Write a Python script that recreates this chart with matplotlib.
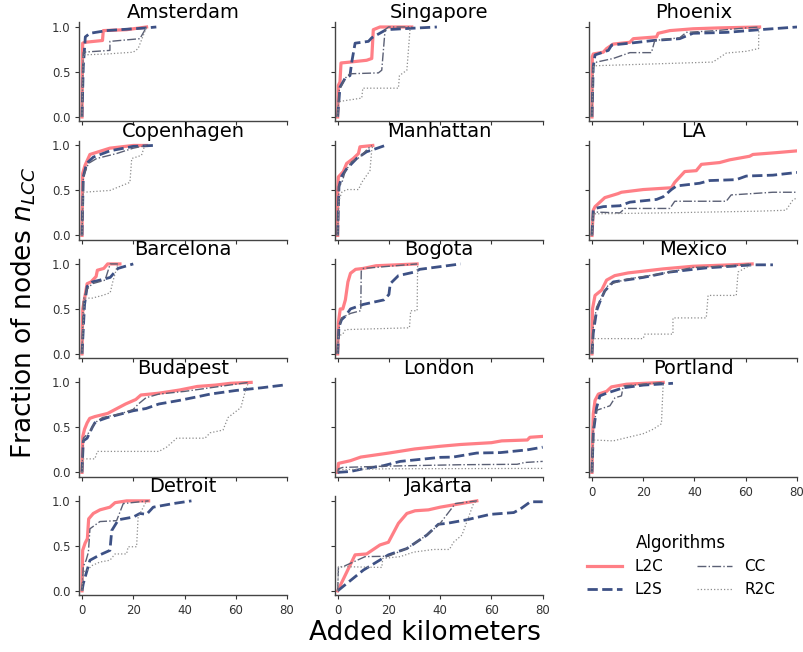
import matplotlib
matplotlib.use("Agg")
import matplotlib.pyplot as plt

# fraction of nodes in the LCC vs added km
# each city: algorithm -> (km, fraction)
amsterdam = {
    "L2C": ([0, 0.26, 1.2, 8, 8.3, 17.4, 25.2], [0, 0.82, 0.83, 0.85, 0.96, 0.97, 1.0]),
    "L2S": ([0, 0.5, 1.3, 3.1, 9.6, 25.2, 29], [0, 0.56, 0.89, 0.93, 0.96, 0.99, 1.0]),
    "CC": ([0, 0.5, 10.9, 10.9, 22.6, 25.2], [0, 0.72, 0.74, 0.84, 0.87, 1.0]),
    "R2C": ([0, 0.5, 9.6, 20, 21.9, 25.2], [0, 0.69, 0.70, 0.72, 0.76, 1.0]),
}
copenhagen = {
    "L2C": ([0, 0.26, 1.2, 3.1, 10.9, 20, 25.2], [0, 0.69, 0.78, 0.90, 0.97, 1.0, 1.0]),
    "L2S": ([0, 0.5, 1.8, 4.4, 10.9, 20, 27.8], [0, 0.65, 0.80, 0.87, 0.94, 0.99, 1.0]),
    "CC": ([0, 0.5, 2.5, 5.7, 13.5, 20, 25.2], [0, 0.65, 0.80, 0.855, 0.91, 0.97, 1.0]),
    "R2C": ([0, 0.5, 10.9, 18.7, 19.4, 23.2, 24.5], [0, 0.48, 0.50, 0.59, 0.855, 0.89, 1.0]),
}
barcelona = {
    "L2C": ([0, 0.3, 2, 3.5, 5.5, 6, 8.5, 10, 14.8], [0, 0.5, 0.78, 0.80, 0.86, 0.93, 0.95, 1.0, 1.0]),
    "L2S": ([0, 1, 2, 4, 7, 11, 14, 20], [0, 0.55, 0.75, 0.80, 0.82, 0.85, 0.95, 1.0]),
    "CC": ([0, 0.5, 2, 4, 9, 11, 14], [0, 0.6, 0.72, 0.78, 0.82, 1.0, 1.0]),
    "R2C": ([0, 1, 4, 8, 11, 12, 14], [0, 0.62, 0.62, 0.65, 0.68, 0.8, 1.0]),
}
budapest = {
    "L2C": ([0, 0.3, 1, 2, 3, 5, 10, 13, 17, 21, 23, 30, 38, 45, 52, 58, 66],
            [0, 0.40, 0.48, 0.55, 0.60, 0.62, 0.655, 0.70, 0.76, 0.81, 0.86, 0.88, 0.915, 0.955, 0.97, 0.99, 1.0]),
    "L2S": ([0, 0.5, 2, 4, 5, 6, 10, 20, 25, 30, 38, 45, 50, 60, 70, 80],
            [0, 0.35, 0.38, 0.50, 0.55, 0.57, 0.61, 0.685, 0.71, 0.76, 0.80, 0.84, 0.87, 0.91, 0.94, 0.975]),
    "CC": ([0, 0.5, 3, 5, 8, 15, 20, 22, 25, 30, 40, 50, 60, 65],
           [0, 0.38, 0.45, 0.55, 0.61, 0.65, 0.70, 0.76, 0.83, 0.87, 0.90, 0.94, 0.98, 1.0]),
    "R2C": ([0, 0.5, 5, 6, 30, 33, 35, 37, 48, 50, 55, 57, 62, 63, 64, 65],
            [0, 0.15, 0.15, 0.233, 0.233, 0.28, 0.33, 0.38, 0.38, 0.44, 0.47, 0.61, 0.72, 0.83, 0.93, 1.0]),
}
detroit = {
    "L2C": ([0, 0.26, 1.2, 2.1, 2.6, 4.4, 7, 10.9, 12.9, 17.4, 26],
            [0, 0.45, 0.53, 0.58, 0.80, 0.86, 0.90, 0.93, 0.98, 1.0, 1.0]),
    "L2S": ([0, 0.5, 1.6, 3.1, 7, 10.9, 11.6, 14.2, 20, 22.6, 25.2, 27.8, 35.6, 42.7],
            [0, 0.08, 0.19, 0.34, 0.40, 0.45, 0.67, 0.79, 0.82, 0.86, 0.85, 0.93, 0.97, 1.0]),
    "CC": ([0, 0.5, 1.6, 2.5, 3.1, 7, 13.5, 16.1, 26],
           [0, 0.27, 0.34, 0.43, 0.69, 0.77, 0.78, 0.97, 1.0]),
    "R2C": ([0, 0.5, 2.1, 3.8, 7, 10.9, 12.9, 17.4, 18, 21.3, 21.9, 25.2],
            [0, 0.21, 0.23, 0.28, 0.32, 0.34, 0.41, 0.41, 0.49, 0.49, 0.82, 1.0]),
}
singapore = {
    "L2C": ([0, 0.26, 0.9, 1.3, 4.8, 11.3, 13.3, 13.9, 16.5, 28.9],
            [0, 0.35, 0.39, 0.60, 0.61, 0.63, 0.65, 0.97, 1.0, 1.0]),
    "L2S": ([0, 0.9, 2.9, 4.8, 5.5, 6.8, 12, 13.3, 18.9, 28.3, 38.7],
            [0, 0.33, 0.43, 0.46, 0.61, 0.82, 0.84, 0.88, 0.97, 0.985, 1.0]),
    "CC": ([0, 0.65, 2.9, 4.8, 15.9, 17.2, 18.5, 19.8, 28.9],
           [0, 0.30, 0.43, 0.48, 0.49, 0.52, 0.97, 1.0, 1.0]),
    "R2C": ([0, 0.26, 9.4, 9.8, 23.7, 24.1, 27, 28.3],
            [0, 0.17, 0.21, 0.32, 0.32, 0.46, 0.52, 1.0]),
}
manhattan = {
    "L2C": ([0, 0, 0.26, 2.2, 3.5, 6.1, 8.1, 8.7, 13.7],
            [0, 0.5, 0.65, 0.71, 0.80, 0.855, 0.91, 0.985, 1.0]),
    "L2S": ([0, 0.5, 1.6, 3.5, 7.4, 11.3, 15.2, 18.5],
            [0, 0.54, 0.66, 0.74, 0.855, 0.93, 0.967, 1.0]),
    "CC": ([0, 0.5, 1.6, 2.9, 5.5, 8.7, 11.3, 13.3],
           [0, 0.56, 0.58, 0.71, 0.82, 0.87, 0.95, 1.0]),
    "R2C": ([0, 0.5, 1.6, 3.5, 8.1, 9.4, 12.6, 13.3, 13.7],
            [0, 0.39, 0.48, 0.51, 0.51, 0.59, 0.72, 0.95, 1.0]),
}
bogota = {
    "L2C": ([0, 0.3, 1, 2, 3, 4, 5, 7, 10, 15, 31],
            [0, 0.35, 0.50, 0.50, 0.60, 0.80, 0.896, 0.94, 0.95, 0.98, 1.0]),
    "L2S": ([0, 0.5, 1.5, 3, 5, 10, 18, 20, 20.5, 23.7, 30, 32, 48],
            [0, 0.30, 0.38, 0.42, 0.50, 0.55, 0.60, 0.66, 0.78, 0.87, 0.91, 0.94, 1.0]),
    "CC": ([0, 0.3, 1.5, 5, 9, 9.2, 10, 31],
           [0, 0.25, 0.40, 0.45, 0.48, 0.92, 0.95, 1.0]),
    "R2C": ([0, 0.3, 2, 3, 28, 28.5, 31, 31.2],
            [0, 0.20, 0.22, 0.27, 0.29, 0.48, 0.48, 1.0]),
}
london = {
    "L2C": ([0, 0.3, 5, 9, 20, 30, 40, 48, 60, 64, 74, 75, 80],
            [0, 0.10, 0.13, 0.17, 0.215, 0.26, 0.29, 0.31, 0.33, 0.35, 0.36, 0.39, 0.40]),
    "L2S": ([0, 5, 10, 17.8, 24.4, 40, 45, 54.3, 63.5, 73.9, 80],
            [0, 0.01, 0.04, 0.074, 0.122, 0.167, 0.17, 0.215, 0.22, 0.25, 0.28]),
    "CC": ([0, 0.3, 2, 20, 48, 70, 73, 80],
           [0, 0.04, 0.055, 0.07, 0.085, 0.09, 0.11, 0.122]),
    "R2C": ([0, 0.3, 20, 80], [0, 0.03, 0.04, 0.044]),
}
jakarta = {
    "L2C": ([0, 6.8, 11.3, 16.5, 19.8, 23.7, 27, 30.2, 35.4, 40, 54.3],
            [0, 0.40, 0.41, 0.51, 0.54, 0.75, 0.86, 0.89, 0.90, 0.93, 1.0]),
    "L2S": ([0, 10, 19.8, 27, 34.8, 39.3, 42.6, 50.4, 59.5, 68.7, 71.3, 75.2, 80],
            [0, 0.23, 0.40, 0.47, 0.62, 0.74, 0.75, 0.79, 0.85, 0.87, 0.91, 0.99, 0.99]),
    "CC": ([0, 0.3, 2.2, 10.7, 19.8, 27, 34.8, 40, 45.9, 54.3],
           [0, 0.26, 0.27, 0.38, 0.385, 0.47, 0.62, 0.75, 0.97, 1.0]),
    "R2C": ([0, 0.3, 17.2, 17.6, 24.4, 29.6, 37.4, 43.6, 45.2, 48.5, 53, 54.3],
            [0, 0.27, 0.26, 0.36, 0.38, 0.43, 0.46, 0.46, 0.54, 0.62, 0.97, 1.0]),
}
phoenix = {
    "L2C": ([0, 0.13, 0.5, 4.4, 5.7, 8.3, 14.8, 16.1, 25.2, 25.8, 30.4, 39.4, 49.8, 65.4],
            [0, 0.67, 0.70, 0.72, 0.76, 0.81, 0.83, 0.87, 0.89, 0.93, 0.96, 0.98, 0.99, 1.0]),
    "L2S": ([0, 0.5, 1.2, 6.4, 7.7, 14.8, 23.9, 34.2, 39.4, 52.4, 65.4, 80],
            [0, 0.56, 0.69, 0.74, 0.80, 0.82, 0.85, 0.87, 0.93, 0.94, 0.97, 1.0]),
    "CC": ([0, 0.5, 1.8, 8.3, 14.8, 23.2, 24.5, 34.2, 36.8, 48.5, 60.2, 65.4],
           [0, 0.56, 0.61, 0.65, 0.715, 0.715, 0.85, 0.88, 0.94, 0.96, 0.99, 1.0]),
    "R2C": ([0, 0.5, 1.8, 47.2, 52.4, 60.2, 65, 65.1, 65.4],
            [0, 0.56, 0.57, 0.61, 0.71, 0.73, 0.76, 0.96, 1.0]),
}
la = {
    "L2C": ([0, 0.5, 1.2, 3.1, 5, 10.2, 11.5, 20, 31, 32.3, 36.2, 40.7, 42.7, 49.8, 53.7, 61.5, 62.8, 71.9, 80],
            [0, 0.28, 0.32, 0.37, 0.42, 0.465, 0.48, 0.51, 0.53, 0.59, 0.71, 0.72, 0.79, 0.81, 0.84, 0.88, 0.90, 0.92, 0.94]),
    "L2S": ([0, 0.5, 1.2, 4.4, 10.9, 14.8, 25.2, 27.8, 31, 33, 42, 45.9, 56.3, 60.2, 70.6, 80],
            [0, 0.28, 0.30, 0.32, 0.33, 0.37, 0.40, 0.43, 0.51, 0.55, 0.58, 0.61, 0.62, 0.66, 0.67, 0.70]),
    "CC": ([0, 0.5, 1.2, 10.9, 12.8, 30.4, 32.3, 52.4, 54.3, 70.6, 80],
           [0, 0.24, 0.26, 0.25, 0.30, 0.30, 0.38, 0.38, 0.45, 0.48, 0.48]),
    "R2C": ([0, 0.5, 26.5, 65.4, 75.7, 78.3, 80],
            [0, 0.24, 0.25, 0.27, 0.28, 0.39, 0.42]),
}
mexico = {
    "L2C": ([0, 0.2, 1.2, 3.8, 5.7, 8.9, 14.1, 27.8, 39.4, 54.3, 62.5],
            [0, 0.50, 0.65, 0.71, 0.82, 0.87, 0.90, 0.945, 0.974, 0.99, 1.0]),
    "L2S": ([0, 0.5, 1.8, 3.1, 5, 8.3, 20, 30.4, 44.6, 62.8, 70.6],
            [0, 0.23, 0.48, 0.58, 0.70, 0.80, 0.85, 0.91, 0.956, 0.99, 0.99]),
    "CC": ([0, 0.5, 1.8, 3.8, 6.4, 13.5, 26.5, 39.4, 55, 62],
           [0, 0.30, 0.52, 0.63, 0.77, 0.83, 0.89, 0.96, 0.98, 1.0]),
    "R2C": ([0, 0.5, 20, 20.6, 31.6, 31.6, 44.6, 45.3, 56.3, 57, 62],
            [0, 0.17, 0.17, 0.22, 0.22, 0.40, 0.40, 0.65, 0.65, 0.91, 0.99]),
}
portland = {
    "L2C": ([0, 0.3, 0.5, 1.2, 2.5, 5.7, 7.6, 13.5, 27.8],
            [0, 0.43, 0.65, 0.80, 0.87, 0.90, 0.95, 0.98, 1.0]),
    "L2S": ([0, 0.5, 1.8, 3.1, 5.7, 12.2, 20, 31.6],
            [0, 0.43, 0.72, 0.85, 0.88, 0.94, 0.97, 0.99]),
    "CC": ([0, 0.5, 1.8, 7, 9, 11.5, 12.2, 27.8],
           [0, 0.50, 0.69, 0.74, 0.83, 0.85, 0.96, 1.0]),
    "R2C": ([0, 0.5, 8.3, 20, 23.9, 27.1, 27.8],
            [0, 0.36, 0.35, 0.43, 0.48, 0.54, 1.0]),
}

# grid layout: (row, col) -> city
panels = [
    ("Amsterdam", amsterdam, 0, 0), ("Copenhagen", copenhagen, 1, 0),
    ("Barcelona", barcelona, 2, 0), ("Budapest", budapest, 3, 0),
    ("Detroit", detroit, 4, 0),
    ("Singapore", singapore, 0, 1), ("Manhattan", manhattan, 1, 1),
    ("Bogota", bogota, 2, 1), ("London", london, 3, 1),
    ("Jakarta", jakarta, 4, 1),
    ("Phoenix", phoenix, 0, 2), ("LA", la, 1, 2),
    ("Mexico", mexico, 2, 2), ("Portland", portland, 3, 2),
]
algorithms = ["L2C", "L2S", "CC", "R2C"]
styles = {
    "L2C": dict(color="#ff7f86", lw=2.3, ls="-"),
    "L2S": dict(color="#3d5185", lw=2.0, ls="--"),
    "CC": dict(color="#5b6075", lw=1.0, ls="-."),
    "R2C": dict(color="#8c8c8c", lw=0.9, ls=":"),
}
bottom_row = {0: 4, 1: 4, 2: 3}

fig = plt.figure(figsize=(8.04, 6.52), dpi=100)
lefts = [0.0988, 0.4168, 0.7331]
w, h = 0.2582, 0.1518

handles = []
for name, data, r, c in panels:
    ax = fig.add_axes([lefts[c], 0.8137 - r * 0.1817, w, h])
    for alg in algorithms:
        x, y = data[alg]
        ln, = ax.plot(x, y, label=alg, **styles[alg])
        if r == 0 and c == 0:
            handles.append(ln)
    ax.set_xlim(-1, 80)
    ax.set_ylim(-0.05, 1.05)
    ax.set_xticks([0, 20, 40, 60, 80])
    ax.set_yticks([0, 0.5, 1.0])
    ax.spines[["top", "right"]].set_visible(False)
    for s in ["left", "bottom"]:
        ax.spines[s].set_color("#444444")
        ax.spines[s].set_linewidth(1.0)
    ax.tick_params(labelsize=8.5, colors="#333333", length=3, width=0.8)
    if c != 0:
        ax.tick_params(labelleft=False)
    if r != bottom_row[c]:
        ax.tick_params(labelbottom=False)
    ax.set_title(name, fontsize=14, pad=0.5)

fig.legend(handles=handles, labels=algorithms, title="Algorithms", ncol=2,
           loc="center", bbox_to_anchor=(0.847, 0.133), frameon=False,
           fontsize=11, title_fontsize=12, handlelength=2.3,
           columnspacing=2.2, handletextpad=0.8)

fig.text(0.029, 0.52, "Fraction of nodes $n_{LCC}$", rotation=90,
         ha="center", va="center", fontsize=19)
fig.text(0.528, 0.029, "Added kilometers", ha="center", va="center", fontsize=19)

plt.savefig("out.png", dpi=100)
